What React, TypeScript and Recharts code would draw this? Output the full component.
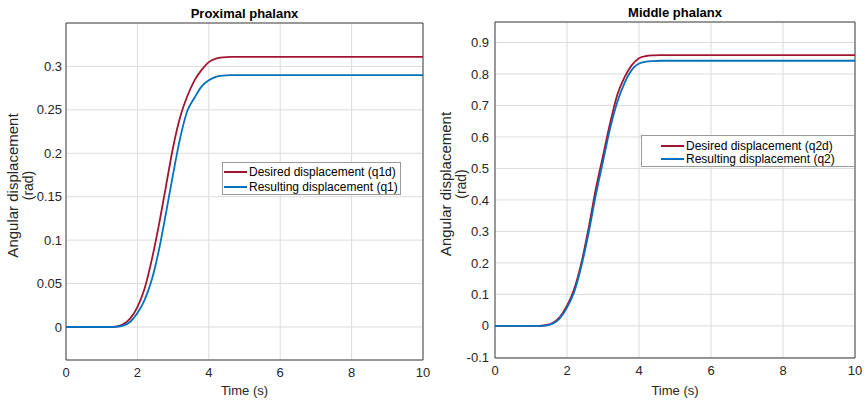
import React from 'react';
import { LineChart, Line, XAxis, YAxis, CartesianGrid, Legend, ReferenceArea, Label } from 'recharts';

const times = [0, 1.0, 1.2, 1.4, 1.6, 1.8, 2.0, 2.2, 2.4, 2.6, 2.8, 3.0, 3.2, 3.4, 3.6, 3.8, 4.0, 4.2, 4.4, 4.6, 4.8, 6, 8, 10];
const q1d = [0, 0, 0, 0.0005, 0.003, 0.01, 0.023, 0.044, 0.077, 0.117, 0.162, 0.207, 0.242, 0.266, 0.284, 0.296, 0.305, 0.309, 0.3105, 0.311, 0.311, 0.311, 0.311, 0.311];
const q1 = [0, 0, 0, 0.0003, 0.0015, 0.006, 0.016, 0.031, 0.054, 0.088, 0.131, 0.176, 0.218, 0.249, 0.264, 0.277, 0.284, 0.288, 0.2895, 0.29, 0.29, 0.29, 0.29, 0.29];
const q2d = [0, 0, 0, 0.002, 0.009, 0.028, 0.064, 0.117, 0.2, 0.31, 0.435, 0.54, 0.645, 0.735, 0.79, 0.828, 0.85, 0.857, 0.859, 0.86, 0.86, 0.86, 0.86, 0.86];
const q2 = [0, 0, 0, 0.001, 0.007, 0.024, 0.058, 0.108, 0.19, 0.295, 0.415, 0.522, 0.628, 0.712, 0.772, 0.813, 0.833, 0.839, 0.841, 0.842, 0.842, 0.842, 0.842, 0.842];

const xTicks = [0, 2, 4, 6, 8, 10];
const y1Ticks = [0, 0.05, 0.1, 0.15, 0.2, 0.25, 0.3];
const y2Ticks = [-0.1, 0, 0.1, 0.2, 0.3, 0.4, 0.5, 0.6, 0.7, 0.8, 0.9];
const y1Domain = [-0.038, 0.35];
const y2Domain = [-0.102, 0.965];

const titles = ['Proximal phalanx', 'Middle phalanx'];
const names1 = ['Desired displacement (q1d)', 'Resulting displacement (q1)'];
const names2 = ['Desired displacement (q2d)', 'Resulting displacement (q2)'];
const yLabelLines = ['Angular displacement', '(rad)'];
const xLabel = 'Time (s)';

const rows1 = times.map((t, i) => ({ t, a: q1d[i], b: q1[i] }));
const rows2 = times.map((t, i) => ({ t, a: q2d[i], b: q2[i] }));

const FONT = '"Liberation Sans", Arial, Helvetica, sans-serif';
const TXT = '#262626';
const RED = '#A2142F';
const BLUE = '#0072BD';

const makeLegend = (cfg: any) => (props: any) => {
  const payload = props.payload || [];
  return (
    <div style={{ width: cfg.w, height: cfg.h, boxSizing: 'border-box', border: '1px solid #9a9a9a', background: '#fff', fontFamily: FONT, fontSize: 12, color: '#000', paddingTop: cfg.padTop }}>
      {payload.map((p: any, i: number) => (
        <div key={i} style={{ display: 'flex', alignItems: 'center', height: cfg.rowH, whiteSpace: 'nowrap' }}>
          <span style={{ display: 'inline-block', width: 23, height: 2, background: p.color, marginLeft: cfg.lineLeft, marginRight: 2 }} />
          <span>{p.value}</span>
        </div>
      ))}
    </div>
  );
};

const yLabel = (baseA: number, baseB: number, shift: number) => (props: any) => {
  const vb = props.viewBox;
  const cy = vb.y + vb.height / 2 + shift;
  return (
    <g>
      <text x={baseA} y={cy} transform={`rotate(-90 ${baseA} ${cy})`} textAnchor="middle" fontFamily={FONT} fontSize={15} fill={TXT}>{yLabelLines[0]}</text>
      <text x={baseB} y={cy} transform={`rotate(-90 ${baseB} ${cy})`} textAnchor="middle" fontFamily={FONT} fontSize={14} fill={TXT}>{yLabelLines[1]}</text>
    </g>
  );
};

function Panel(props: any) {
  const { rows, names, title, yTicks, yDomain, margin, yWidth, xHeight, yTickMargin, legendCfg, titleX, titleY, yfmt } = props;
  return (
    <LineChart width={433} height={403} data={rows} margin={margin}>
      <CartesianGrid stroke="#dcdcdc" strokeWidth={1} />
      <XAxis dataKey="t" type="number" domain={[0, 10]} ticks={xTicks} interval={0} allowDataOverflow
        height={xHeight} tickSize={0} tickMargin={8} axisLine={false}
        tick={{ fontFamily: FONT, fontSize: 13, fill: TXT }}>
        <Label value={xLabel} position="bottom" offset={-17} style={{ fontFamily: FONT, fontSize: 13, fill: TXT }} />
      </XAxis>
      <YAxis type="number" domain={yDomain} ticks={yTicks} interval={0} allowDataOverflow
        width={yWidth} tickSize={0} tickMargin={yTickMargin} axisLine={false}
        tickFormatter={yfmt}
        tick={{ fontFamily: FONT, fontSize: 13, fill: TXT }}>
        <Label content={yLabel(17.5, 33, -6)} />
      </YAxis>
      <ReferenceArea x1={0} x2={10} y1={yDomain[0]} y2={yDomain[1]} fill="none" stroke="#262626" strokeWidth={1} strokeOpacity={0.85} />
      <Line type="monotone" dataKey="a" name={names[0]} stroke={RED} strokeWidth={1.8} dot={false} isAnimationActive={false} />
      <Line type="monotone" dataKey="b" name={names[1]} stroke={BLUE} strokeWidth={1.8} dot={false} isAnimationActive={false} />
      <Legend layout="horizontal" verticalAlign="middle" align="center"
        wrapperStyle={{ position: 'absolute', left: legendCfg.left, top: legendCfg.top, width: legendCfg.w, height: legendCfg.h, margin: 0, padding: 0 }}
        content={makeLegend(legendCfg)} />
      <text x={titleX} y={titleY} textAnchor="middle" fontFamily={FONT} fontSize={13} fontWeight="bold" fill="#000">{title}</text>
    </LineChart>
  );
}

const fmt = (v: number) => {
  const r = Math.round(v * 100) / 100;
  return String(r);
};

export default function App() {
  return (
    <div style={{ position: 'absolute', left: 0, top: 0, width: 866, height: 403, background: '#fff' }}>
      <div style={{ position: 'absolute', left: 0, top: 0 }}>
        <Panel rows={rows1} names={names1} title={titles[0]} yTicks={y1Ticks} yDomain={y1Domain}
          margin={{ top: 23, right: 10, bottom: 0, left: 0 }} yWidth={66} xHeight={43} yTickMargin={4}
          legendCfg={{ left: 222, top: 162, w: 179, h: 33, padTop: 1, rowH: 15.5, lineLeft: 1 }}
          titleX={244.5} titleY={17.7} yfmt={fmt} />
      </div>
      <div style={{ position: 'absolute', left: 433, top: 0 }}>
        <Panel rows={rows2} names={names2} title={titles[1]} yTicks={y2Ticks} yDomain={y2Domain}
          margin={{ top: 22, right: 11, bottom: 0, left: 0 }} yWidth={62} xHeight={45} yTickMargin={6}
          legendCfg={{ left: 208, top: 135, w: 214, h: 32, padTop: 3, rowH: 13.3, lineLeft: 19 }}
          titleX={242} titleY={16.7} yfmt={fmt} />
      </div>
    </div>
  );
}
